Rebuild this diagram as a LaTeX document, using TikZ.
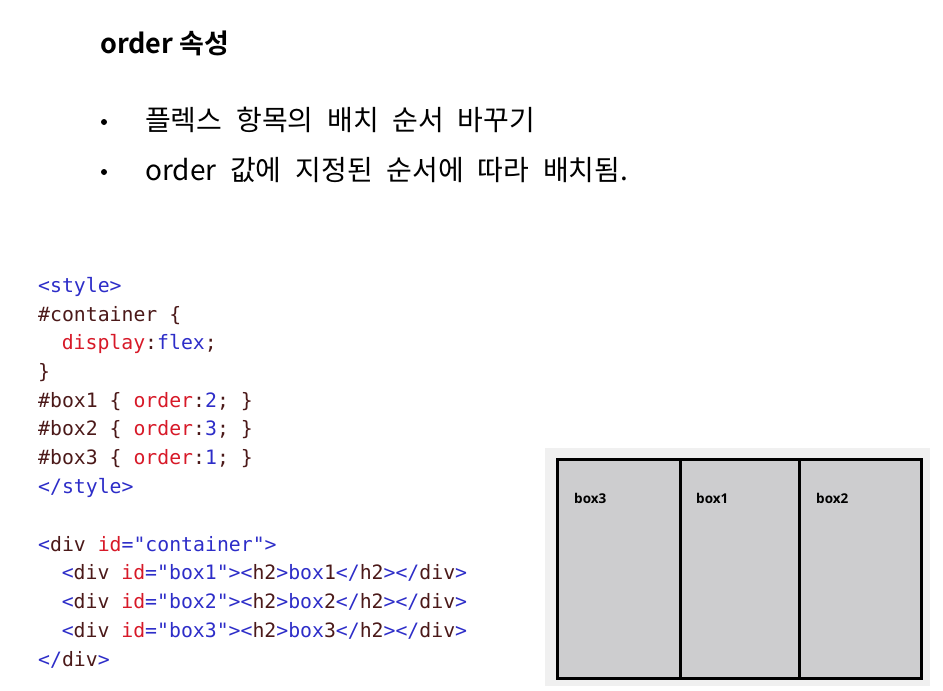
\documentclass[tikz,border=0pt]{standalone}
\usepackage{fontspec}
\setmainfont{Noto Sans CJK KR}[BoldFont={* Bold}]
\setmonofont{DejaVu Sans Mono}
\newfontfamily\slidefont{Noto Sans CJK KR}[WordSpace=2.2]
\newfontfamily\boxfont{Open Sans}

\definecolor{codeblue}{RGB}{45,45,200}
\definecolor{codered}{RGB}{215,25,40}
\definecolor{codebrown}{RGB}{75,25,25}
\definecolor{boxgray}{RGB}{205,205,207}
\definecolor{panelgray}{RGB}{240,240,240}

\newcommand{\tg}[1]{\textcolor{codeblue}{#1}}
\newcommand{\kw}[1]{\textcolor{codered}{#1}}
\newcommand{\dk}[1]{\textcolor{codebrown}{#1}}

\tikzset{
  codeline/.style={anchor=base west, inner sep=0pt, font=\ttfamily\fontsize{19.8}{24}\selectfont},
  slidetext/.style={anchor=base west, inner sep=0pt, font=\slidefont\fontsize{28}{32}\selectfont},
  dot/.style={circle, fill=black, inner sep=0pt, minimum size=6pt},
  flexbox/.style={draw=black, line width=2.8pt, fill=boxgray, anchor=north west, minimum height=219pt},
  boxlabel/.style={anchor=base west, inner sep=0pt, font=\boxfont\bfseries\fontsize{13.5}{15}\selectfont}
}

\begin{document}
\begin{tikzpicture}[x=1pt, y=-1pt]
    \useasboundingbox (0,0) rectangle (943,691);

    % heading and bullets
    \node[anchor=base west, inner sep=0pt, font=\bfseries\fontsize{27}{31}\selectfont] (title) at (100,53) {order 속성};
    \node[dot] (b1) at (104,122) {};
    \node[dot] (b2) at (104,172) {};
    \node[slidetext] (t1) at (145,130) {플렉스 항목의 배치 순서 바꾸기};
    \node[slidetext] (t2) at (145,180) {order 값에 지정된 순서에 따라 배치됨.};

    % css code
    \node[codeline] (c1) at (38,292) {\tg{<style>}};
    \node[codeline] (c2) at (38,321) {\dk{\#container \{}};
    \node[codeline] (c3) at (61.6,349) {\kw{display}\dk{:}\tg{flex}\dk{;}};
    \node[codeline] (c4) at (38,378) {\dk{\}}};
    \node[codeline] (c5) at (38,407) {\dk{\#box1 \{ }\kw{order}\dk{:}\tg{2}\dk{; \}}};
    \node[codeline] (c6) at (38,435) {\dk{\#box2 \{ }\kw{order}\dk{:}\tg{3}\dk{; \}}};
    \node[codeline] (c7) at (38,464) {\dk{\#box3 \{ }\kw{order}\dk{:}\tg{1}\dk{; \}}};
    \node[codeline] (c8) at (38,493) {\tg{</style>}};

    % html code
    \node[codeline] (h1) at (38,551) {\tg{<}\dk{div} \kw{id}\tg{="container">}};
    \node[codeline] (h2) at (61.6,579) {\tg{<}\dk{div} \kw{id}\tg{="box1"><}\dk{h2}\tg{>box}\dk{1}\tg{</}\dk{h2}\tg{></}\dk{div}\tg{>}};
    \node[codeline] (h3) at (61.6,608) {\tg{<}\dk{div} \kw{id}\tg{="box2"><}\dk{h2}\tg{>box}\dk{2}\tg{</}\dk{h2}\tg{></}\dk{div}\tg{>}};
    \node[codeline] (h4) at (61.6,637) {\tg{<}\dk{div} \kw{id}\tg{="box3"><}\dk{h2}\tg{>box}\dk{3}\tg{</}\dk{h2}\tg{></}\dk{div}\tg{>}};
    \node[codeline] (h5) at (38,666) {\tg{</}\dk{div}\tg{>}};

    % rendered result
    \fill[panelgray] (545,448) rectangle (930,686);
    \node[flexbox, minimum width=123pt] (box3) at (556,458) {};
    \node[flexbox, minimum width=119pt] (box1) at (679,458) {};
    \node[flexbox, minimum width=122pt] (box2) at (798,458) {};
    \node[boxlabel] (l3) at (574,503) {box3};
    \node[boxlabel] (l1) at (696,503) {box1};
    \node[boxlabel] (l2) at (816,503) {box2};
\end{tikzpicture}
\end{document}
